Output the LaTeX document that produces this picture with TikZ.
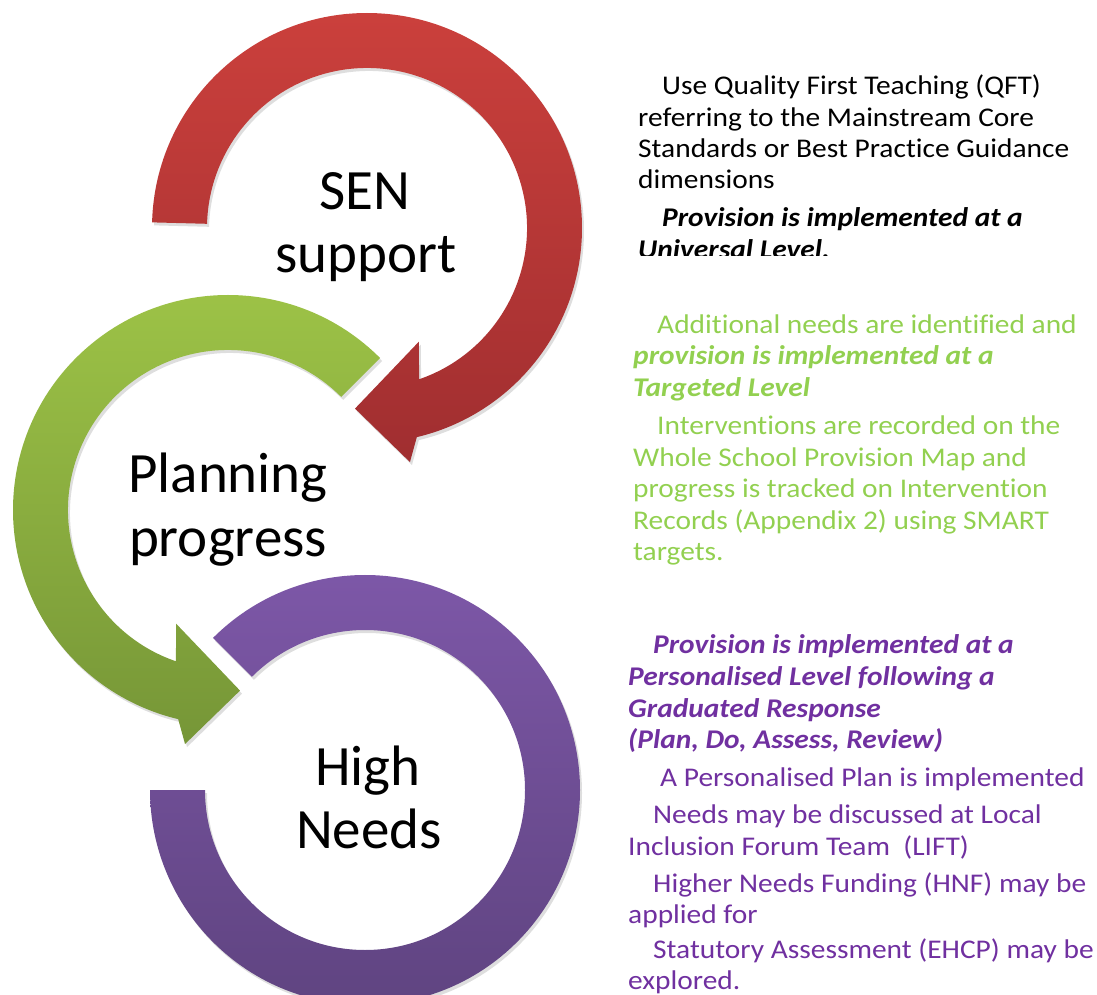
\documentclass[tikz,border=0pt]{standalone}
\usepackage{fontspec}
\setmainfont{Carlito}[Ligatures={NoCommon,NoRare,NoContextual},Contextuals=NoAlternate]
\definecolor{redtop}{HTML}{CB403C}
\definecolor{redbot}{HTML}{A02E30}
\definecolor{greentop}{HTML}{9EC447}
\definecolor{greenbot}{HTML}{769637}
\definecolor{purptop}{HTML}{7E58A9}
\definecolor{purpbot}{HTML}{5E437F}
\definecolor{txtgreen}{HTML}{92D050}
\definecolor{txtpurple}{HTML}{7030A0}
\begin{document}
\begin{tikzpicture}[x=1pt,y=1pt,
  shadowc/.style={fill=black,opacity=0.13},
  biglabel/.style={inner sep=0pt,anchor=base,font=\fontsize{57}{63}\selectfont},
  bodyline/.style={inner sep=0pt,anchor=base west,xscale=1.09,transform shape,font=\fontsize{27}{31.7}\selectfont},
  bodybi/.style={bodyline,font=\fontsize{27}{31.7}\selectfont\bfseries\itshape}]
\useasboundingbox (0,0) rectangle (1097,994);
\clip (0,0) rectangle (1097,994);

% ---------- shadows ----------
\begin{scope}[shift={(369,763)}]
\fill[shadowc] (178.5:215) arc[start angle=178.5,end angle=-76.6,radius=215] -- (-79.6:238) -- (-93.8:181) -- (-65.5:125) -- (-71:160) arc[start angle=-71,end angle=178.5,radius=160] -- cycle;
\end{scope}
\begin{scope}[shift={(230,481)}]
\fill[shadowc] (45:215) arc[start angle=45,end angle=256.6,radius=215] -- (259.6:238) -- (273.8:181) -- (245.5:125) -- (251:160) arc[start angle=251,end angle=45,radius=160] -- cycle;
\end{scope}
\begin{scope}[shift={(367,201)}]
\fill[shadowc] (135:215) arc[start angle=135,end angle=-180,radius=215] -- (180:160) arc[start angle=180,end angle=495,radius=160] -- cycle;
\end{scope}

% ---------- red arrow (SEN support) ----------
\begin{scope}[shift={(367,766)}]
\shade[top color=redtop,bottom color=redbot] (178.5:215) arc[start angle=178.5,end angle=-76.6,radius=215] -- (-79.6:238) -- (-93.8:181) -- (-65.5:125) -- (-71:160) arc[start angle=-71,end angle=178.5,radius=160] -- cycle;
\end{scope}

% ---------- green arrow (Planning progress) ----------
\begin{scope}[shift={(228,484)}]
\shade[top color=greentop,bottom color=greenbot] (45:215) arc[start angle=45,end angle=256.6,radius=215] -- (259.6:238) -- (273.8:181) -- (245.5:125) -- (251:160) arc[start angle=251,end angle=45,radius=160] -- cycle;
\end{scope}

% ---------- purple ring (High Needs) ----------
\begin{scope}[shift={(365,204)}]
\shade[top color=purptop,bottom color=purpbot] (135:215) arc[start angle=135,end angle=-180,radius=215] -- (180:160) arc[start angle=180,end angle=495,radius=160] -- cycle;
\end{scope}

% ---------- big labels ----------
\node[biglabel] (sen1) at (365,784) {SEN};
\node[biglabel] (sen2) at (366,721) {support};
\node[biglabel] (pl1) at (228,501) {Planning};
\node[biglabel] (pl2) at (228,437) {progress};
\node[biglabel] (hn1) at (368,209) {High};
\node[biglabel] (hn2) at (369,146) {Needs};

% ---------- block 1 (black) ----------
\node[bodyline] (a1) at (662,899) {Use Quality First Teaching (QFT)};
\node[bodyline] (a2) at (638,867) {referring to the Mainstream Core};
\node[bodyline] (a3) at (638,836) {Standards or Best Practice Guidance};
\node[bodyline] (a4) at (638,805) {dimensions};
\node[bodybi] (a5) at (662,767) {Provision is implemented at a};
\begin{scope}
\clip (600,738) rectangle (1097,780);
\node[bodybi] (a6) at (638,735) {Universal Level.};
\end{scope}

% ---------- block 2 (green) ----------
\begin{scope}[text=txtgreen]
\node[bodyline] (b1) at (657,660) {Additional needs are identified and};
\node[bodybi] (b2) at (633,629) {provision is implemented at a};
\node[bodybi] (b3) at (633,597) {Targeted Level};
\node[bodyline] (b4) at (657,559) {Interventions are recorded on the};
\node[bodyline] (b5) at (633,527) {Whole School Provision Map and};
\node[bodyline] (b6) at (633,496) {progress is tracked on Intervention};
\node[bodyline] (b7) at (633,464) {Records (Appendix 2) using SMART};
\node[bodyline] (b8) at (633,433) {targets.};
\end{scope}

% ---------- block 3 (purple) ----------
\begin{scope}[text=txtpurple]
\node[bodybi] (c1) at (653,341) {Provision is implemented at a};
\node[bodybi] (c2) at (628,309) {Personalised Level following a};
\node[bodybi] (c3) at (628,277) {Graduated Response};
\node[bodybi] (c4) at (628,246) {(Plan, Do, Assess, Review)};
\node[bodyline] (c5) at (660,208) {A Personalised Plan is implemented};
\node[bodyline] (c6) at (653,171) {Needs may be discussed at Local};
\node[bodyline] (c7) at (628,139) {Inclusion Forum Team\ \ (LIFT)};
\node[bodyline] (c8) at (653,102) {Higher Needs Funding (HNF) may be};
\node[bodyline] (c9) at (628,71) {applied for};
\node[bodyline] (c10) at (653,36) {Statutory Assessment (EHCP) may be};
\node[bodyline] (c11) at (628,5) {explored.};
\end{scope}
\end{tikzpicture}
\end{document}
